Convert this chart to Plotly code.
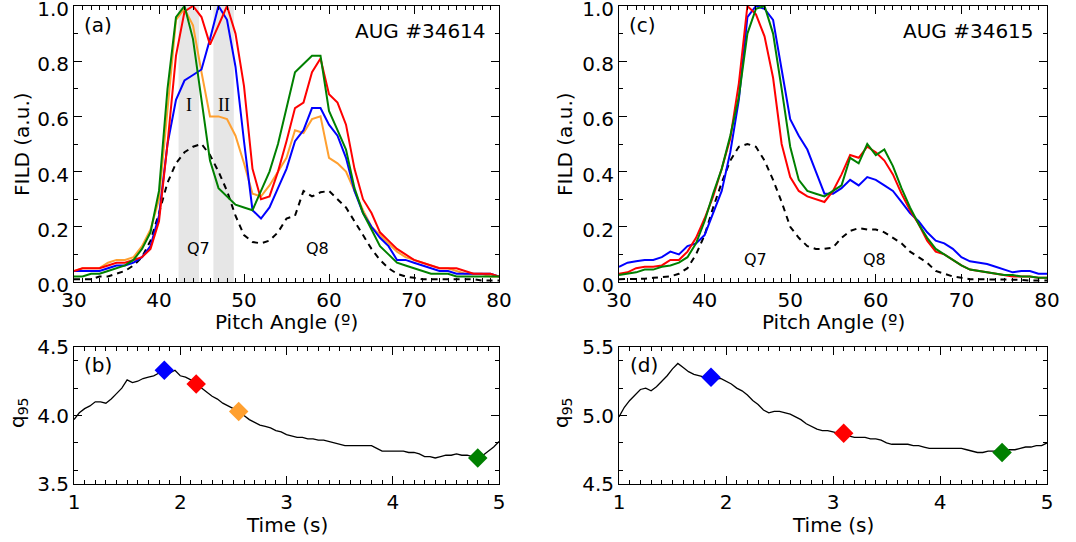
import plotly.graph_objects as go

# ---------------- data ----------------
pitch = list(range(30, 81))

a_blue = [0.04, 0.04, 0.04, 0.04, 0.05, 0.06, 0.06, 0.07, 0.09, 0.13,
          0.24, 0.50, 0.66, 0.73, 0.75, 0.77, 0.88, 1.00, 0.95, 0.78,
          0.51, 0.26, 0.23, 0.27, 0.34, 0.41, 0.51, 0.55, 0.63, 0.63,
          0.57, 0.53, 0.45, 0.33, 0.25, 0.20, 0.16, 0.13, 0.08, 0.08,
          0.07, 0.06, 0.05, 0.04, 0.04, 0.03, 0.03, 0.03, 0.03, 0.03, 0.02]
a_red = [0.04, 0.05, 0.05, 0.05, 0.06, 0.07, 0.07, 0.08, 0.09, 0.12,
         0.22, 0.50, 0.82, 0.98, 1.00, 0.96, 0.86, 0.93, 1.00, 0.90,
         0.71, 0.41, 0.30, 0.31, 0.40, 0.51, 0.63, 0.65, 0.76, 0.81,
         0.68, 0.65, 0.57, 0.41, 0.30, 0.25, 0.18, 0.15, 0.12, 0.10,
         0.08, 0.07, 0.06, 0.05, 0.05, 0.05, 0.04, 0.03, 0.03, 0.03, 0.02]
a_orange = [0.04, 0.05, 0.05, 0.05, 0.07, 0.08, 0.08, 0.09, 0.13, 0.19,
            0.30, 0.62, 0.95, 0.99, 0.93, 0.76, 0.60, 0.60, 0.59, 0.53,
            0.43, 0.32, 0.31, 0.35, 0.40, 0.45, 0.55, 0.54, 0.59, 0.60,
            0.45, 0.43, 0.40, 0.33, 0.26, 0.20, 0.17, 0.14, 0.11, 0.09,
            0.08, 0.07, 0.06, 0.05, 0.05, 0.04, 0.03, 0.03, 0.03, 0.02, 0.02]
a_green = [0.02, 0.02, 0.03, 0.03, 0.04, 0.05, 0.06, 0.08, 0.12, 0.18,
           0.33, 0.70, 0.96, 1.00, 0.88, 0.66, 0.44, 0.34, 0.31, 0.28,
           0.27, 0.26, 0.33, 0.40, 0.50, 0.63, 0.76, 0.79, 0.82, 0.82,
           0.62, 0.55, 0.48, 0.34, 0.25, 0.19, 0.13, 0.10, 0.07, 0.06,
           0.05, 0.04, 0.03, 0.03, 0.03, 0.02, 0.02, 0.02, 0.02, 0.02, 0.02]
a_sim = [0.01, 0.01, 0.01, 0.02, 0.02, 0.03, 0.04, 0.06, 0.09, 0.15,
         0.25, 0.36, 0.43, 0.47, 0.49, 0.50, 0.46, 0.40, 0.33, 0.24,
         0.17, 0.145, 0.14, 0.15, 0.18, 0.23, 0.24, 0.33, 0.31, 0.325,
         0.33, 0.30, 0.27, 0.22, 0.17, 0.12, 0.08, 0.05, 0.03, 0.02,
         0.015, 0.01, 0.01, 0.01, 0.01, 0.01, 0.01, 0.01, 0.005, 0.005, 0.005]

c_blue = [0.055, 0.07, 0.075, 0.08, 0.08, 0.09, 0.11, 0.10, 0.13, 0.14,
          0.17, 0.25, 0.33, 0.47, 0.66, 0.96, 1.00, 0.99, 0.95, 0.77,
          0.59, 0.53, 0.48, 0.40, 0.32, 0.32, 0.34, 0.37, 0.35, 0.38,
          0.37, 0.35, 0.33, 0.29, 0.25, 0.22, 0.18, 0.15, 0.14, 0.12,
          0.09, 0.075, 0.07, 0.065, 0.055, 0.045, 0.035, 0.04, 0.04, 0.03, 0.03]
c_red = [0.03, 0.035, 0.05, 0.055, 0.055, 0.06, 0.08, 0.08, 0.11, 0.16,
         0.23, 0.31, 0.41, 0.52, 0.72, 1.00, 0.97, 0.89, 0.74, 0.50,
         0.38, 0.33, 0.31, 0.30, 0.29, 0.33, 0.39, 0.46, 0.45, 0.49,
         0.47, 0.44, 0.39, 0.32, 0.26, 0.21, 0.15, 0.11, 0.10, 0.08,
         0.06, 0.045, 0.04, 0.035, 0.03, 0.025, 0.02, 0.02, 0.02, 0.015, 0.015]
c_green = [0.025, 0.03, 0.035, 0.045, 0.045, 0.055, 0.06, 0.07, 0.09, 0.14,
           0.22, 0.32, 0.41, 0.53, 0.67, 0.90, 0.99, 1.00, 0.90, 0.70,
           0.49, 0.37, 0.33, 0.32, 0.31, 0.33, 0.35, 0.45, 0.43, 0.50,
           0.46, 0.48, 0.42, 0.34, 0.27, 0.21, 0.16, 0.12, 0.10, 0.08,
           0.06, 0.045, 0.04, 0.035, 0.03, 0.025, 0.025, 0.02, 0.02, 0.015, 0.015]
c_sim = [0.01, 0.01, 0.01, 0.012, 0.015, 0.018, 0.02, 0.03, 0.05, 0.10,
         0.17, 0.27, 0.36, 0.44, 0.49, 0.50, 0.49, 0.44, 0.37, 0.29,
         0.20, 0.16, 0.13, 0.12, 0.12, 0.125, 0.16, 0.185, 0.195, 0.19,
         0.19, 0.18, 0.16, 0.14, 0.11, 0.09, 0.07, 0.04, 0.03, 0.02,
         0.015, 0.01, 0.01, 0.01, 0.01, 0.01, 0.01, 0.008, 0.005, 0.005, 0.005]

band_edges = [(42.3, 44.7), (46.4, 48.8)]
band_labels = ["I", "II"]

time = [round(1.0 + 0.05 * i, 2) for i in range(81)]
b_q95 = [3.97, 4.02, 4.05, 4.07, 4.10, 4.10, 4.09, 4.12, 4.16, 4.20,
         4.26, 4.24, 4.25, 4.27, 4.28, 4.29, 4.31, 4.32, 4.31, 4.33,
         4.29, 4.28, 4.26, 4.24, 4.20, 4.17, 4.14, 4.12, 4.09, 4.07,
         4.05, 4.03, 4.00, 3.97, 3.95, 3.93, 3.92, 3.91, 3.89, 3.88,
         3.86, 3.85, 3.84, 3.84, 3.83, 3.83, 3.82, 3.82, 3.81, 3.80,
         3.79, 3.78, 3.78, 3.78, 3.78, 3.78, 3.78, 3.76, 3.74, 3.74,
         3.74, 3.74, 3.74, 3.73, 3.73, 3.72, 3.70, 3.70, 3.69, 3.70,
         3.71, 3.71, 3.72, 3.71, 3.71, 3.70, 3.69, 3.71, 3.74, 3.77, 3.81]
d_q95 = [4.99, 5.06, 5.11, 5.15, 5.19, 5.20, 5.18, 5.21, 5.25, 5.29,
         5.34, 5.38, 5.35, 5.32, 5.30, 5.29, 5.28, 5.28, 5.27, 5.27,
         5.25, 5.23, 5.20, 5.18, 5.15, 5.11, 5.08, 5.04, 5.02, 5.03,
         5.03, 5.02, 5.01, 4.99, 4.97, 4.94, 4.92, 4.90, 4.89, 4.89,
         4.88, 4.87, 4.86, 4.85, 4.84, 4.84, 4.84, 4.83, 4.83, 4.82,
         4.80, 4.79, 4.79, 4.79, 4.79, 4.78, 4.78, 4.77, 4.76, 4.76,
         4.76, 4.76, 4.76, 4.76, 4.76, 4.75, 4.74, 4.73, 4.73, 4.74,
         4.74, 4.74, 4.74, 4.75, 4.75, 4.76, 4.77, 4.77, 4.78, 4.78, 4.80]

b_mark_t = [1.85, 2.15, 2.55, 4.80]
b_mark_q = [4.33, 4.23, 4.03, 3.69]
b_mark_c = ["#0000ff", "#ff0000", "#ffa030", "#008000"]
d_mark_t = [1.86, 3.10, 4.58]
d_mark_q = [5.28, 4.87, 4.73]
d_mark_c = ["#0000ff", "#ff0000", "#008000"]

BLUE, RED, ORANGE, GREEN = "#0000ff", "#ff0000", "#ffa030", "#008000"
FONT = "DejaVu Sans"
W, H = 1076, 542

fig = go.Figure()

def add_line(x, y, color, xa, ya, width=2.0, dash=None):
    fig.add_trace(go.Scatter(x=x, y=y, mode="lines", xaxis=xa, yaxis=ya,
                             line=dict(color=color, width=width, dash=dash),
                             showlegend=False, hoverinfo="skip"))

# panel (a)
add_line(pitch, a_sim, "black", "x", "y", 2.0, "6px,5px")
add_line(pitch, a_orange, ORANGE, "x", "y")
add_line(pitch, a_blue, BLUE, "x", "y")
add_line(pitch, a_red, RED, "x", "y")
add_line(pitch, a_green, GREEN, "x", "y")
# panel (c)
add_line(pitch, c_sim, "black", "x2", "y2", 2.0, "6px,5px")
add_line(pitch, c_blue, BLUE, "x2", "y2")
add_line(pitch, c_red, RED, "x2", "y2")
add_line(pitch, c_green, GREEN, "x2", "y2")
# panel (b)
add_line(time, b_q95, "black", "x3", "y3", 1.3)
fig.add_trace(go.Scatter(x=b_mark_t, y=b_mark_q, mode="markers", xaxis="x3", yaxis="y3",
                         marker=dict(symbol="diamond", size=15, color=b_mark_c),
                         showlegend=False, hoverinfo="skip"))
# panel (d)
add_line(time, d_q95, "black", "x4", "y4", 1.3)
fig.add_trace(go.Scatter(x=d_mark_t, y=d_mark_q, mode="markers", xaxis="x4", yaxis="y4",
                         marker=dict(symbol="diamond", size=15, color=d_mark_c),
                         showlegend=False, hoverinfo="skip"))

# grey bands
for (x0, x1) in band_edges:
    fig.add_shape(type="rect", xref="x", yref="y", x0=x0, x1=x1, y0=0, y1=1,
                  fillcolor="#e6e6e6", line=dict(width=0), layer="below")

def px_x(p):
    return p / W

def px_y(p):
    return 1 - p / H

TICKSIZE = 20

def axis(domain, rng, dtick, mdtick, fmt, tick0=None, mtick0=None, anchor=None, shift=0):
    d = dict(domain=domain, range=rng, dtick=dtick, tickformat=fmt, automargin=False,
             ticklabeloverflow="allow", ticklabelshift=shift,
             ticks="inside", ticklen=8, tickwidth=1, tickcolor="black",
             mirror="allticks", showline=True, linecolor="black", linewidth=1,
             showgrid=False, zeroline=False,
             tickfont=dict(family=FONT, size=TICKSIZE, color="black"),
             minor=dict(ticks="inside", ticklen=4, tickwidth=1, tickcolor="black",
                        dtick=mdtick, showgrid=False),
             anchor=anchor)
    if tick0 is not None:
        d["tick0"] = tick0
    if mtick0 is not None:
        d["minor"]["tick0"] = mtick0
    return d

xa_dom = [px_x(74), px_x(499)]
xc_dom = [px_x(619), px_x(1047)]
top_dom = [px_y(282), px_y(6)]
bot_dom = [px_y(484), px_y(347)]

fig.update_layout(
    template="none",
    width=W, height=H,
    margin=dict(l=0, r=0, t=0, b=0),
    paper_bgcolor="white", plot_bgcolor="white",
    font=dict(family=FONT, size=20, color="black"),
    xaxis=axis(xa_dom, [30, 80], 10, 1, "d", anchor="y"),
    yaxis=axis(top_dom, [0, 1], 0.2, 0.1, ".1f", anchor="x", shift=3),
    xaxis2=axis(xc_dom, [30, 80], 10, 1, "d", anchor="y2"),
    yaxis2=axis(top_dom, [0, 1], 0.2, 0.1, ".1f", anchor="x2", shift=3),
    xaxis3=axis(xa_dom, [1, 5], 1, 0.1, "d", anchor="y3"),
    yaxis3=axis(bot_dom, [3.5, 4.5], 0.5, 0.2, ".1f", tick0=3.5, mtick0=3.6, anchor="x3"),
    xaxis4=axis(xc_dom, [1, 5], 1, 0.1, "d", anchor="y4"),
    yaxis4=axis(bot_dom, [4.5, 5.5], 0.5, 0.2, ".1f", tick0=4.5, mtick0=4.6, anchor="x4"),
)

ann = []
def txt(text, x, y, xref, yref, size=20, xanchor="center", yanchor="middle", family=FONT, angle=0):
    ann.append(dict(text=text, x=x, y=y, xref=xref, yref=yref, showarrow=False,
                    xanchor=xanchor, yanchor=yanchor, textangle=angle,
                    font=dict(family=family, size=size, color="black")))

# in-panel labels
txt("(a)", 32.8, 0.93, "x", "y")
txt("AUG #34614", 78.7, 0.91, "x", "y", size=20, xanchor="right")
for (x0, x1), lab in zip(band_edges, band_labels):
    txt(lab, (x0 + x1) / 2, 0.64, "x", "y", size=18, family="Liberation Serif")
txt("Q7", 44.7, 0.12, "x", "y", size=16)
txt("Q8", 58.7, 0.12, "x", "y", size=16)

txt("(c)", 32.7, 0.93, "x2", "y2")
txt("AUG #34615", 78.7, 0.91, "x2", "y2", size=20, xanchor="right")
txt("Q7", 45.9, 0.08, "x2", "y2", size=16)
txt("Q8", 59.9, 0.08, "x2", "y2", size=16)

txt("(b)", 1.23, 4.37, "x3", "y3")
txt("(d)", 1.23, 5.37, "x4", "y4")

# axis titles
txt("FILD (a.u.)", px_x(22), px_y(144), "paper", "paper", angle=-90)
txt("FILD (a.u.)", px_x(565), px_y(144), "paper", "paper", angle=-90)
txt("Pitch Angle (º)", px_x(286.5), px_y(322), "paper", "paper")
txt("Pitch Angle (º)", px_x(833), px_y(322), "paper", "paper")
txt("q<sub>95</sub>", px_x(18), px_y(413), "paper", "paper", angle=-90)
txt("q<sub>95</sub>", px_x(562), px_y(413), "paper", "paper", angle=-90)
txt("Time (s)", px_x(286.5), px_y(525), "paper", "paper")
txt("Time (s)", px_x(833), px_y(525), "paper", "paper")

fig.update_layout(annotations=ann)

fig.write_html("out.html",
               config={"displayModeBar": False},
               post_script="document.body.style.margin='0';document.body.style.padding='0';"
                           "document.body.style.overflow='hidden';")
